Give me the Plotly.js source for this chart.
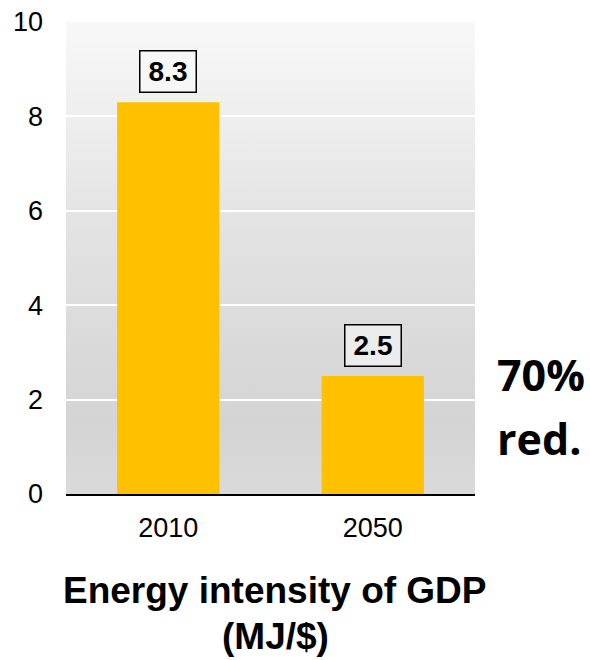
<!DOCTYPE html>
<html>
<head>
<meta charset="utf-8">
<script src="https://cdn.plot.ly/plotly-3.0.1.min.js"></script>
<style>html,body{margin:0;padding:0;background:#fff;}#chart{width:590px;height:660px;}</style>
</head>
<body>
<div id="chart"></div>
<script>
const years = ["2010", "2050"];
const intensity = [8.3, 2.5];
const valueLabels = ["8.3", "2.5"];
const yTicks = [0, 2, 4, 6, 8, 10];
const titleLines = ["Energy intensity of GDP", "(MJ/$)"];
const sideNote = ["70%", "red."];

const gradSvg = '<svg xmlns="http://www.w3.org/2000/svg" width="10" height="100" preserveAspectRatio="none">' +
  '<defs><linearGradient id="g" x1="0" y1="0" x2="0" y2="1">' +
  '<stop offset="0" stop-color="#f8f8f8"/>' +
  '<stop offset="0.45" stop-color="#e2e2e2"/>' +
  '<stop offset="0.85" stop-color="#d4d4d4"/>' +
  '<stop offset="1" stop-color="#dadada"/>' +
  '</linearGradient></defs><rect width="10" height="100" fill="url(#g)"/></svg>';
const gradUri = 'data:image/svg+xml;base64,' + btoa(gradSvg);

const trace = {
  type: 'bar',
  x: years,
  y: intensity,
  marker: {color: '#FFC000', line: {width: 0}},
  hoverinfo: 'none'
};

const boxBg = ['#f7f7f7', '#ececec'];
const annotations = years.map((yr, i) => ({
  x: i, y: intensity[i], xref: 'x', yref: 'y',
  text: '<b>' + valueLabels[i] + '</b>',
  showarrow: false, yanchor: 'bottom', yshift: 9,
  font: {family: 'Liberation Sans, Arial, sans-serif', size: 28, color: '#000'},
  bgcolor: boxBg[i], bordercolor: '#000', borderwidth: 1.5, borderpad: 2,
  width: 51, height: 36
}));

annotations.push({
  x: 1.049, y: 0.254, xref: 'paper', yref: 'paper', xanchor: 'left', yanchor: 'middle',
  text: '<b>' + sideNote[0] + '</b>', showarrow: false,
  font: {family: 'Open Sans, sans-serif', size: 43, color: '#000'}
});
annotations.push({
  x: 1.049, y: 0.118, xref: 'paper', yref: 'paper', xanchor: 'left', yanchor: 'middle',
  text: '<b>' + sideNote[1] + '</b>', showarrow: false,
  font: {family: 'Open Sans, sans-serif', size: 43, color: '#000'}
});
annotations.push({
  x: 0.512, y: -0.2055, xref: 'paper', yref: 'paper', xanchor: 'center', yanchor: 'middle',
  text: '<b>' + titleLines[0] + '</b>', showarrow: false,
  font: {family: 'Liberation Sans, Arial, sans-serif', size: 37, color: '#000'}
});
annotations.push({
  x: 0.512, y: -0.301, xref: 'paper', yref: 'paper', xanchor: 'center', yanchor: 'middle',
  text: '<b>' + titleLines[1] + '</b>', showarrow: false,
  font: {family: 'Liberation Sans, Arial, sans-serif', size: 37, color: '#000'}
});

const layout = {
  width: 590, height: 660,
  margin: {l: 66, r: 115, t: 22, b: 166},
  paper_bgcolor: '#ffffff',
  plot_bgcolor: 'rgba(0,0,0,0)',
  showlegend: false,
  bargap: 0.5,
  font: {family: 'Liberation Sans, Arial, sans-serif', color: '#000'},
  xaxis: {
    type: 'category',
    categoryorder: 'array',
    categoryarray: years,
    range: [-0.5, 1.5], autorange: false,
    showgrid: false,
    showline: true, linecolor: '#000', linewidth: 2,
    ticks: '', ticklabelstandoff: 9,
    tickfont: {size: 27, color: '#000'},
    zeroline: false, fixedrange: true
  },
  yaxis: {
    range: [0, 10], autorange: false,
    tickvals: yTicks,
    ticktext: yTicks.map(String),
    showgrid: true, gridcolor: '#ffffff', gridwidth: 2,
    showline: false, zeroline: false,
    ticks: '', ticklabelstandoff: 22,
    tickfont: {size: 27, color: '#000'},
    fixedrange: true
  },
  images: [{
    source: gradUri, xref: 'paper', yref: 'paper',
    x: 0, y: 1, sizex: 1, sizey: 1, xanchor: 'left', yanchor: 'top',
    sizing: 'stretch', layer: 'below'
  }],
  annotations: annotations
};

Plotly.newPlot('chart', [trace], layout, {displayModeBar: false, staticPlot: true});
</script>
</body>
</html>
